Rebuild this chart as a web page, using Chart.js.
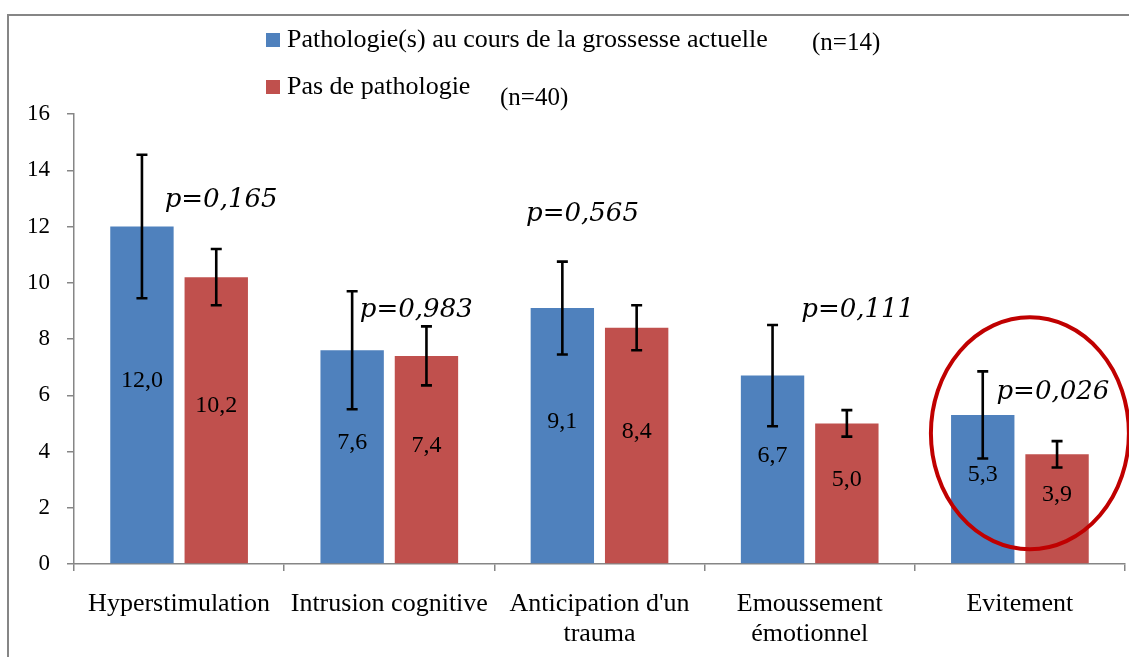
<!DOCTYPE html>
<html>
<head>
<meta charset="utf-8">
<script src="https://cdn.jsdelivr.net/npm/chart.js@4.4.1/dist/chart.umd.min.js"></script>
<style>
  html, body { margin: 0; padding: 0; background: #fff; }
  #wrap { width: 1129px; height: 657px; position: relative; }
</style>
</head>
<body>
<div id="wrap"><canvas id="chart"></canvas></div>
<script>
/* ── données ───────────────────────────────────────────────────── */
const categories = [
    ['Hyperstimulation'],
    ['Intrusion cognitive'],
    ["Anticipation d'un", 'trauma'],
    ['Emoussement', 'émotionnel'],
    ['Evitement']
];
const seriesNames = ['Pathologie(s) au cours de la grossesse actuelle', 'Pas de pathologie'];
const seriesN     = [14, 40];
const pathoValues = [12.0, 7.6, 9.1, 6.7, 5.3];
const pathoErrors = [2.55, 2.1, 1.65, 1.8, 1.55];
const noneValues  = [10.2, 7.4, 8.4, 5.0, 3.9];
const noneErrors  = [1.0, 1.05, 0.8, 0.47, 0.47];
const pValues     = ['0,165', '0,983', '0,565', '0,111', '0,026'];
const yTicks      = [0, 2, 4, 6, 8, 10, 12, 14, 16];
const highlighted = 4;   // catégorie entourée (Evitement)

/* ── mise en page (px / unités d'axe), hors données ────────────── */
const pLabelAt = [ { dx: 42, y: 12.95 }, { dx: 27, y: 9.04 }, { dx: -17, y: 12.42 }, { dx: 48, y: 9.04 }, { dx: 33, y: 6.09 } ];
const BLUE = '#4f81bd', RED = '#c0504d', AXIS = '#868686';
const TIMES = '"Liberation Serif", "Times New Roman", serif';
const BOOK  = '"DejaVu Serif", serif';

Chart.defaults.font.family = TIMES;
Chart.defaults.color = '#000';

const decorations = {
    id: 'decorations',
    beforeDraw(chart) {
        const ctx = chart.ctx;
        ctx.save();
        ctx.strokeStyle = AXIS;
        ctx.lineWidth = 2;
        ctx.beginPath();
        ctx.moveTo(8, 660); ctx.lineTo(8, 15); ctx.lineTo(1135, 15);
        ctx.stroke();
        ctx.restore();
    },
    afterDatasetsDraw(chart) {
        const ctx = chart.ctx;
        const y = chart.scales.y;
        const errs = [pathoErrors, noneErrors];
        ctx.save();
        chart.data.datasets.forEach((ds, di) => {
            const meta = chart.getDatasetMeta(di);
            meta.data.forEach((bar, i) => {
                const v = ds.data[i];
                // étiquette de valeur
                ctx.fillStyle = '#000';
                ctx.font = '24px ' + TIMES;
                ctx.textAlign = 'center';
                ctx.textBaseline = 'middle';
                const mid = (bar.y + bar.base) / 2 - 14;
                ctx.fillText(v.toFixed(1).replace('.', ','), bar.x, mid);
                // barre d'erreur
                const e = errs[di][i];
                const top = y.getPixelForValue(v + e);
                const bot = y.getPixelForValue(v - e);
                ctx.strokeStyle = '#000';
                ctx.lineWidth = 2.6;
                ctx.beginPath();
                ctx.moveTo(bar.x, top); ctx.lineTo(bar.x, bot);
                ctx.moveTo(bar.x - 5.5, top); ctx.lineTo(bar.x + 5.5, top);
                ctx.moveTo(bar.x - 5.5, bot); ctx.lineTo(bar.x + 5.5, bot);
                ctx.stroke();
            });
        });
        ctx.restore();
    },
    afterDraw(chart) {
        const ctx = chart.ctx;
        const x = chart.scales.x, y = chart.scales.y;
        ctx.save();
        // p-valeurs
        ctx.fillStyle = '#000';
        ctx.font = 'italic 26px ' + BOOK;
        ctx.textAlign = 'center';
        ctx.textBaseline = 'middle';
        pValues.forEach((p, i) => {
            const pos = pLabelAt[i];
            ctx.fillText('p=' + p, x.getPixelForValue(i) + pos.dx, y.getPixelForValue(pos.y));
        });
        // légende
        ctx.textAlign = 'left';
        const rows = [40, 87];
        chart.data.datasets.forEach((ds, di) => {
            ctx.fillStyle = ds.backgroundColor;
            ctx.fillRect(266, rows[di] - 7, 14, 14);
            ctx.fillStyle = '#000';
            ctx.font = '26px ' + TIMES;
            ctx.fillText(ds.label, 287, rows[di]);
        });
        ctx.font = '25px ' + TIMES;
        ctx.fillText('(n=' + seriesN[0] + ')', 812, 43);
        ctx.fillText('(n=' + seriesN[1] + ')', 500, 98);
        // ellipse rouge autour de la catégorie significative
        ctx.strokeStyle = '#c00000';
        ctx.lineWidth = 4;
        ctx.beginPath();
        ctx.ellipse(x.getPixelForValue(highlighted) + 10, y.getPixelForValue(4.65), 99, 116, 0, 0, Math.PI * 2);
        ctx.stroke();
        ctx.restore();
    }
};

new Chart(document.getElementById('chart'), {
    type: 'bar',
    data: {
        labels: categories,
        datasets: [
            { label: seriesNames[0], data: pathoValues, backgroundColor: BLUE, categoryPercentage: 0.707, barPercentage: 0.853 },
            { label: seriesNames[1], data: noneValues,  backgroundColor: RED,  categoryPercentage: 0.707, barPercentage: 0.853 }
        ]
    },
    options: {
        responsive: true,
        maintainAspectRatio: false,
        animation: false,
        layout: { padding: { top: 114, right: 4, left: 0, bottom: 0 } },
        plugins: { legend: { display: false }, tooltip: { enabled: false } },
        scales: {
            x: {
                grid: { drawOnChartArea: false, tickLength: 7, color: AXIS, lineWidth: 1.5, offset: true },
                border: { color: AXIS, width: 1.5 },
                ticks: { autoSkip: false, maxRotation: 0, padding: 19, font: { family: TIMES, size: 26, lineHeight: 1.12 }, color: '#000' },
                afterFit: s => { s.height = 93; }
            },
            y: {
                min: 0, max: 16,
                afterBuildTicks: s => { s.ticks = yTicks.map(v => ({ value: v })); },
                grid: { drawOnChartArea: false, tickLength: 7, color: AXIS, lineWidth: 1.5 },
                border: { color: AXIS, width: 1.5 },
                ticks: { padding: 17, font: { family: TIMES, size: 23 }, color: '#000' },
                afterFit: s => { s.width = 74; }
            }
        }
    },
    plugins: [decorations]
});
</script>
</body>
</html>
